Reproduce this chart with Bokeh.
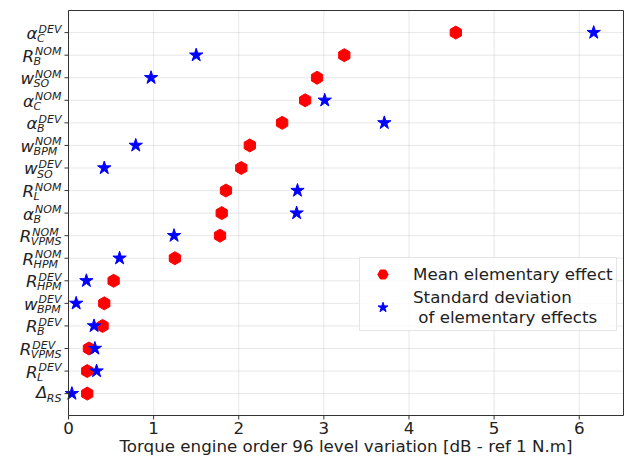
import math

from bokeh.core.properties import value
from bokeh.embed import file_html
from bokeh.models import ColumnDataSource, Legend, LegendItem, Range1d
from bokeh.plotting import figure
from bokeh.resources import INLINE

# Input parameters, listed from top to bottom of the chart
param_base = ["α", "R", "w", "α", "α", "w", "w", "R", "α", "R", "R", "R", "w", "R", "R", "R", "Δ"]
param_sub = ["C", "B", "SO", "C", "B", "BPM", "SO", "L", "B", "VPMS", "HPM", "HPM",
             "BPM", "B", "VPMS", "L", "RS"]
param_sup = ["DEV", "NOM", "NOM", "NOM", "DEV", "NOM", "DEV", "NOM", "NOM", "NOM", "NOM",
             "DEV", "DEV", "DEV", "DEV", "DEV", ""]

# Morris screening results [dB]
mean_effect = [4.55, 3.24, 2.92, 2.78, 2.51, 2.13, 2.03, 1.85, 1.80, 1.78, 1.25,
               0.53, 0.42, 0.40, 0.24, 0.22, 0.22]
std_effect = [6.17, 1.50, 0.97, 3.01, 3.71, 0.79, 0.42, 2.69, 2.68, 1.24, 0.60,
              0.21, 0.09, 0.30, 0.31, 0.33, 0.04]

x_ticks = [0, 1, 2, 3, 4, 5, 6]
x_tick_labels = ["0", "1", "2", "3", "4", "5", "6"]
x_label = "Torque engine order 96 level variation [dB - ref 1 N.m]"
legend_labels = ["Mean elementary effect", "Standard deviation\n of elementary effects"]

FONT = "DejaVu Sans"
TEXT_COLOR = "#222222"
SPINE_COLOR = "#333333"
GRID_COLOR = "#b0b0b0"
FONT_SIZE = 16.7
SCRIPT_SIZE = 11.0
# distance Bokeh's alphabetic anchor sits above the drawn baseline, in em
BASELINE_SHIFT = 0.36

W, H = 627, 460
M_LEFT, M_RIGHT, M_TOP, M_BOTTOM = 68, 4, 10, 45   # space around the axes box

n = len(param_base)
pos = [n - 1 - i for i in range(n)]

# data extent of the axes box
X0, X1 = 0.0, 6.52
Y0, Y1 = -0.97, n - 1 + 0.98

ppx = (W - M_LEFT - M_RIGHT) / (X1 - X0)     # pixels per data unit
ppy = (H - M_TOP - M_BOTTOM) / (Y1 - Y0)


def dx(px):
    return px / ppx


def dy(px):
    return px / ppy


def baseline_y(y, px_below, size):
    """Data y of a text anchor whose baseline sits px_below pixels under y."""
    return y - dy(px_below - BASELINE_SHIFT * size)


p = figure(width=W, height=H, output_backend="svg", toolbar_location=None,
           x_range=Range1d(X0 - dx(M_LEFT), X1 + dx(M_RIGHT)),
           y_range=Range1d(Y0 - dy(M_BOTTOM), Y1 + dy(M_TOP)),
           x_axis_location=None, y_axis_location=None,
           min_border=0, min_border_left=0, min_border_right=0,
           min_border_top=0, min_border_bottom=0)
p.outline_line_color = None
p.background_fill_color = "white"
p.border_fill_color = "white"
p.grid.visible = False

# grid
p.segment(x0=x_ticks, x1=x_ticks, y0=[Y0] * len(x_ticks), y1=[Y1] * len(x_ticks),
          line_color=GRID_COLOR, line_alpha=0.3, line_width=1)
p.segment(x0=[X0] * n, x1=[X1] * n, y0=pos, y1=pos,
          line_color=GRID_COLOR, line_alpha=0.3, line_width=1)

# data
src = ColumnDataSource(dict(pos=pos, mean=mean_effect, std=std_effect))
r_mean = p.scatter(x="mean", y="pos", source=src, marker="hex", angle=math.pi / 2,
                   size=13, color="red")
r_std = p.scatter(x="std", y="pos", source=src, marker="star", size=14, color="blue")

# axes box and ticks
p.quad(left=X0, right=X1, bottom=Y0, top=Y1, fill_color=None,
       line_color=SPINE_COLOR, line_width=1)
p.segment(x0=x_ticks, x1=x_ticks, y0=[Y0] * len(x_ticks),
          y1=[Y0 - dy(4)] * len(x_ticks), line_color=SPINE_COLOR, line_width=1)
p.segment(x0=[X0 - dx(4)] * n, x1=[X0] * n, y0=pos, y1=pos,
          line_color=SPINE_COLOR, line_width=1)

# x tick labels and axis title
p.text(x=x_ticks, y=[baseline_y(Y0, 19, FONT_SIZE)] * len(x_ticks), text=x_tick_labels,
       text_align="center", text_baseline="alphabetic",
       text_font=value(FONT), text_font_size=value(f"{FONT_SIZE}px"),
       text_color=TEXT_COLOR)
p.text(x=[(X0 + X1) / 2], y=[baseline_y(Y0, 37, FONT_SIZE)], text=[x_label],
       text_align="center", text_baseline="alphabetic",
       text_font=value(FONT), text_font_size=value(f"{FONT_SIZE}px"),
       text_color=TEXT_COLOR)

# parameter names: italic symbol with subscript and superscript
ADV = {"A": 0.684, "B": 0.686, "C": 0.698, "D": 0.770, "E": 0.632, "H": 0.752,
       "L": 0.557, "M": 0.863, "N": 0.748, "O": 0.787, "P": 0.603, "R": 0.695,
       "S": 0.635, "V": 0.684}


def text_width(s, size):
    return sum(ADV.get(c, 0.65) for c in s) * size


RIGHT = -7.0   # right end of the names, pixels from the left spine
base_x, base_y, sub_x, sub_y, sup_x, sup_y, sup_t = [], [], [], [], [], [], []
for i in range(n):
    has_sup = bool(param_sup[i])
    w_sub = text_width(param_sub[i], SCRIPT_SIZE)
    w_sup = text_width(param_sup[i], SCRIPT_SIZE) + 1.5 if has_sup else 0
    xs = RIGHT - max(w_sub, w_sup)
    base_dy = 6.5 if has_sup else 4.5
    sub_dy = 10.0 if has_sup else 8.5
    base_x.append(X0 + dx(xs + 0.5))
    base_y.append(baseline_y(pos[i], base_dy, FONT_SIZE))
    sub_x.append(X0 + dx(xs))
    sub_y.append(baseline_y(pos[i], sub_dy, SCRIPT_SIZE))
    if has_sup:
        sup_x.append(X0 + dx(xs + 1.5))
        sup_y.append(baseline_y(pos[i], 0.5, SCRIPT_SIZE))
        sup_t.append(param_sup[i])

common = dict(text_font=value(FONT), text_font_style=value("italic"),
              text_color=TEXT_COLOR, text_baseline="alphabetic")
p.text(x=base_x, y=base_y, text=param_base, text_align="right",
       text_font_size=value(f"{FONT_SIZE}px"), **common)
p.text(x=sub_x, y=sub_y, text=param_sub, text_align="left",
       text_font_size=value(f"{SCRIPT_SIZE}px"), **common)
p.text(x=sup_x, y=sup_y, text=sup_t, text_align="left",
       text_font_size=value(f"{SCRIPT_SIZE}px"), **common)

# legend, placed in pixels from the bottom-left corner
legend = Legend(items=[LegendItem(label=legend_labels[0], renderers=[r_mean]),
                       LegendItem(label=legend_labels[1], renderers=[r_std])],
                location=(359, H - 331))
legend.label_text_font = FONT
legend.label_text_font_size = f"{FONT_SIZE}px"
legend.label_text_color = TEXT_COLOR
legend.padding = 3
legend.spacing = 0
legend.glyph_width = 39
legend.glyph_height = 26
legend.label_standoff = 11
legend.border_line_color = "#cccccc"
legend.background_fill_alpha = 0.8
p.add_layout(legend)

open("out.html", "w").write(file_html(p, INLINE))
